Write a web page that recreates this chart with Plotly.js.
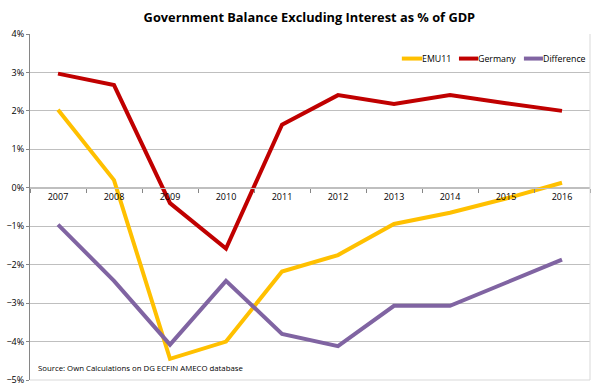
<!DOCTYPE html>
<html><head><meta charset="utf-8">
<script src="https://cdn.plot.ly/plotly-3.0.1.min.js"></script>
<style>body{margin:0;padding:0;background:#fff}#c{width:595px;height:389px}</style>
</head><body><div id="c"></div>
<script>
var years = ['2007','2008','2009','2010','2011','2012','2013','2014','2015','2016'];
var emu11 = [2.03, 0.2, -4.45, -4.0, -2.18, -1.75, -0.94, -0.65, -0.28, 0.13];
var germany = [2.97, 2.67, -0.4, -1.58, 1.64, 2.41, 2.18, 2.41, 2.2, 2.0];
var difference = [-0.96, -2.42, -4.08, -2.42, -3.8, -4.12, -3.07, -3.07, -2.47, -1.87];
var seriesNames = ['EMU11','Germany','Difference'];
var colors = ['#FFC000','#C00000','#8064A2'];
var vals = [emu11, germany, difference];
var F = 'Open Sans, Liberation Sans, sans-serif';
var traces = vals.map(function(v,i){
  return {x: years, y: v, name: seriesNames[i], type:'scatter', mode:'lines',
    line:{color: colors[i], width:4}, showlegend:false};
});
// legend drawn manually (Excel-style compact legend), positions in paper fraction
var legX = [[0.664, 0.700], [0.766, 0.800], [0.882, 0.916]];
var legY = 0.929;
var shapes = [
  {type:'line', xref:'paper', yref:'paper', x0:1, x1:1, y0:0, y1:1, line:{color:'#D9D9D9', width:1}},
  {type:'line', xref:'paper', yref:'paper', x0:0, x1:1, y0:0, y1:0, line:{color:'#D9D9D9', width:1}}
];
var annotations = [
  {text:'Source: Own Calculations on DG ECFIN AMECO database', xref:'paper', yref:'paper',
   x:0.01, y:0.035, xanchor:'left', yanchor:'middle', showarrow:false,
   font:{family:F, size:7.8, color:'#000'}}
];
seriesNames.forEach(function(n,i){
  shapes.push({type:'line', xref:'paper', yref:'paper', x0:legX[i][0], x1:legX[i][1], y0:legY, y1:legY,
    line:{color:colors[i], width:4}});
  annotations.push({text:n, xref:'paper', yref:'paper', x:legX[i][1], y:legY, xanchor:'left', yanchor:'middle',
    showarrow:false, xshift:-2, font:{family:F, size:8.8, color:'#000'}});
});
var layout = {
  width:595, height:389,
  margin:{l:30, r:5, t:34, b:9},
  paper_bgcolor:'#fff', plot_bgcolor:'#fff',
  title:{text:'Government Balance Excluding Interest as % of GDP', x:0.52, xanchor:'center', y:0.955, yanchor:'middle',
    font:{family:F, size:12.8, color:'#000', weight:'bold'}},
  showlegend:false,
  xaxis:{type:'category', range:[-0.5,9.5], anchor:'free', position:5/9,
    showgrid:false, zeroline:false, showline:true, linecolor:'#BFBFBF', linewidth:1,
    ticks:'outside', tickson:'boundaries', ticklen:4, tickcolor:'#868686',
    tickfont:{family:F, size:9, color:'#000'}},
  yaxis:{range:[-5,4], dtick:1, ticksuffix:'%', showgrid:true, gridcolor:'#BFBFBF', gridwidth:1,
    zeroline:false, showline:true, linecolor:'#868686', linewidth:1,
    ticks:'outside', ticklen:3, tickcolor:'#868686',
    tickfont:{family:F, size:9, color:'#000'}},
  shapes: shapes,
  annotations: annotations
};
Plotly.newPlot('c', traces, layout, {displayModeBar:false, staticPlot:true});
</script></body></html>
